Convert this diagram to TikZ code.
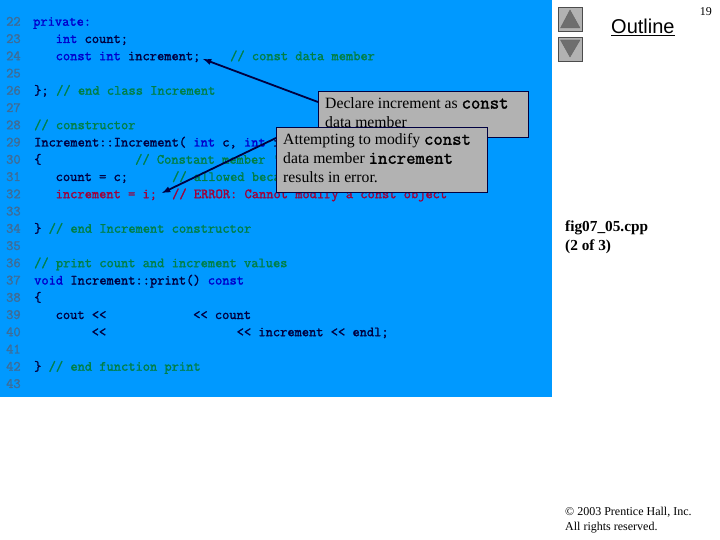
\documentclass[tikz,border=0pt]{standalone}
\usepackage{fontspec}
\setmainfont{Liberation Serif}
\newfontfamily\outlinefont{Liberation Sans}
\newfontfamily\codefont[FakeBold=1.6]{Latin Modern Mono}
\usetikzlibrary{calc,arrows}
\definecolor{slidebg}{HTML}{0099FF}
\definecolor{kwblue}{HTML}{0000CC}
\definecolor{cmgreen}{HTML}{007F46}
\definecolor{plainnavy}{HTML}{000040}
\definecolor{errred}{HTML}{A00038}
\definecolor{numgray}{HTML}{3F6C96}
\definecolor{boxgray}{HTML}{B2B2B2}
\definecolor{tridark}{HTML}{6E6E6E}
\newcommand{\kw}[1]{\textcolor{kwblue}{#1}}
\newcommand{\cbold}[1]{{\fontsize{18.2}{19}\codefont #1}}
\begin{document}
\begin{tikzpicture}[x=1pt,y=-1pt]
                      \tikzstyle{code}=[anchor=base west,inner sep=0pt,text=plainnavy,font=\fontsize{14.05}{14}\codefont]
                      \tikzstyle{comment}=[code,text=cmgreen]
                      \tikzstyle{linenum}=[code,text=numgray]
                      \tikzstyle{callout}=[draw=plainnavy,fill=boxgray,line width=0.8pt,anchor=north west,inner sep=0pt]
                      \tikzstyle{callouttext}=[anchor=north west,inner sep=0pt,align=left,font=\fontsize{15.7}{19}\selectfont]
                      \tikzstyle{pointer}=[-latex,draw=plainnavy,line width=1.8pt]
                      \tikzstyle{button}=[draw=black!70,fill=boxgray,line width=0.8pt,minimum width=24pt,minimum height=24pt,inner sep=0pt,anchor=north west]
                      \useasboundingbox (0,0) rectangle (720,540);
                      \fill[slidebg] (0,0) rectangle (552,397);
                      % line numbers
                      \foreach \n in {22,...,43} {
                        \pgfmathsetmacro{\ybase}{25.7+17.25*(\n-22)}
                        \node[linenum] (num\n) at (6,\ybase) {\n};
                      }
                      % code
                      \node[code] (l22) at (33,25.7) {\kw{private:}};
                      \node[code] (l23) at (55.5,43) {\kw{int} count;};
                      \node[code] (l24) at (55.5,60.2) {\kw{const int} increment;};
                      \node[comment] (c24) at (230,60.2) {// const data member};
                      \node[code] (l26) at (34,94.7) {\};};
                      \node[comment] (c26) at (56,94.7) {// end class Increment};
                      \node[comment] (c28) at (34,129.2) {// constructor};
                      \node[code] (l29) at (34,146.5) {Increment::Increment( \kw{int} c, \kw{int} i};
                      \node[code] (l30) at (34,163.7) {\{};
                      \node[comment] (c30) at (135,163.7) {// Constant member '};
                      \node[code] (l31) at (55.5,181) {count = c;};
                      \node[comment] (c31) at (172,181) {// allowed beca};
                      \node[code,text=errred] (l32) at (55.5,198.2) {increment = i;};
                      \node[code,text=errred] (c32) at (172,198.2) {// ERROR: Cannot modify a const object};
                      \node[code] (l34) at (34,232.7) {\}};
                      \node[comment] (c34) at (48.5,232.7) {// end Increment constructor};
                      \node[comment] (c36) at (34,267.2) {// print count and increment values};
                      \node[code] (l37) at (34,284.5) {\kw{void} Increment::print() \kw{const}};
                      \node[code] (l38) at (34,301.7) {\{};
                      \node[code] (l39) at (55.5,319) {cout <<};
                      \node[code] (l39b) at (193,319) {<< count};
                      \node[code] (l40) at (91.5,336.2) {<<};
                      \node[code] (l40b) at (236.5,336.2) {<< increment << endl;};
                      \node[code] (l42) at (34,370.7) {\}};
                      \node[comment] (c42) at (48.5,370.7) {// end function print};
                      % callouts
                      \node[callout,minimum width=210pt,minimum height=46pt] (declbox) at (318,91) {};
                      \node[callouttext] (decltext) at (325,97.5) {Declare increment as \cbold{const}\\data member};
                      \coordinate (decltip) at (203,59);
                      \draw[pointer] ($(declbox.north west)+(0,11)$) -- (decltip);
                      \node[callout,minimum width=211pt,minimum height=65pt] (errbox) at (276,127) {};
                      \node[callouttext] (errtext) at (283,133.5) {Attempting to modify \cbold{const}\\data member \cbold{increment}\\results in error.};
                      \coordinate (errtip) at (162,193);
                      \draw[pointer] ($(errbox.north west)+(0,11)$) -- (errtip);
                      % side bar
                      \node[button] (upbtn) at (558,7) {};
                      \fill[tridark,draw=black!60] (570,10) -- (580,28) -- (560.5,28) -- cycle;
                      \node[button] (downbtn) at (558,37) {};
                      \fill[tridark,draw=black!60] (570,57) -- (580,40) -- (560.5,40) -- cycle;
                      \node[anchor=base west,inner sep=0pt,font=\fontsize{20}{22}\outlinefont] (outline) at (611,34) {\underline{Outline}};
                      \node[anchor=base east,inner sep=0pt,font=\fontsize{12}{14}\selectfont] (pagenum) at (712,16) {19};
                      \node[anchor=base west,inner sep=0pt,font=\fontsize{15.3}{18}\selectfont\bfseries] (figname) at (565,232) {fig07\_05.cpp};
                      \node[anchor=base west,inner sep=0pt,font=\fontsize{15.3}{18}\selectfont\bfseries] (figpart) at (565,250) {(2 of 3)};
                      \node[anchor=base west,inner sep=0pt,font=\fontsize{12}{15}\selectfont] (copy1) at (565,515) {© 2003 Prentice Hall, Inc.};
                      \node[anchor=base west,inner sep=0pt,font=\fontsize{12}{15}\selectfont] (copy2) at (565,530) {All rights reserved.};
\end{tikzpicture}
\end{document}
